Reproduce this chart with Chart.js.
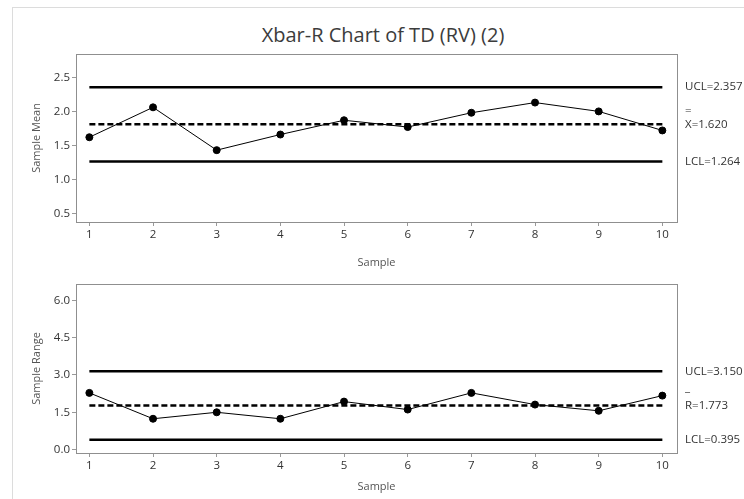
<!DOCTYPE html>
<html lang="en">
<head>
<meta charset="UTF-8">
<title>Xbar-R Chart of TD (RV) (2)</title>
<script src="https://cdn.jsdelivr.net/npm/chart.js@4.4.1/dist/chart.umd.min.js"></script>
<style>
    body { margin: 0; background: #fff; font-family: "Open Sans", sans-serif; }
    #page { position: relative; width: 744px; height: 499px; overflow: hidden; }
    #frame { position: absolute; left: 12px; top: 7px; right: -2px; bottom: -2px;
             border-left: 1px solid #dcdcdc; border-top: 1px solid #dcdcdc; }
    #title { position: absolute; left: 22px; width: 722px; top: 21px; text-align: center;
             font-size: 20px; color: #3c3c3c; }
    .box { position: absolute; left: 0; }
</style>
</head>
<body>
<div id="page">
    <div id="frame"></div>
    <div id="title">Xbar-R Chart of TD (RV) (2)</div>
    <div class="box" style="top:45px"><canvas id="meanChart" width="744" height="230"></canvas></div>
    <div class="box" style="top:275px"><canvas id="rangeChart" width="744" height="224"></canvas></div>
</div>
<script>
    // sample numbers
    const samples = [1, 2, 3, 4, 5, 6, 7, 8, 9, 10]

    // Xbar chart
    const meanValues = [1.62, 2.06, 1.43, 1.66, 1.87, 1.77, 1.98, 2.13, 2.00, 1.72]
    const meanLimits = [2.357, 1.81, 1.264]          // UCL, center, LCL
    const meanLabels = ["UCL=2.357", "X=1.620", "LCL=1.264"]
    const meanBarMark = "="

    // R chart
    const rangeValues = [2.28, 1.24, 1.50, 1.24, 1.93, 1.61, 2.28, 1.81, 1.56, 2.17]
    const rangeLimits = [3.150, 1.773, 0.395]
    const rangeLabels = ["UCL=3.150", "R=1.773", "LCL=0.395"]
    const rangeBarMark = "_"

    const fontFamily = "'Open Sans', sans-serif"

    // draws the full plot frame and the control limit labels on the right
    const frameAndLabels = {
        id: 'frameAndLabels',
        afterDraw(chart, args, opts) {
            const ctx = chart.ctx
            const a = chart.chartArea
            ctx.save()
            ctx.strokeStyle = '#8f8f8f'
            ctx.lineWidth = 1
            ctx.strokeRect(Math.round(a.left) + 0.5, Math.round(a.top) + 0.5,
                Math.round(a.right - a.left), Math.round(a.bottom - a.top))

            const y = chart.scales.y
            ctx.fillStyle = '#333'
            ctx.font = '11.5px ' + fontFamily
            ctx.textBaseline = 'middle'
            ctx.textAlign = 'left'
            const x = a.right + 8
            opts.labels.forEach((txt, i) => {
                ctx.fillText(txt, x, y.getPixelForValue(opts.limits[i]))
            })
            // bar over the center line symbol
            ctx.fillText(opts.barMark, x, y.getPixelForValue(opts.limits[1]) - opts.barOffset)
            ctx.restore()
        }
    }

    function makeChart(id, values, limits, labels, barMark, barOffset, yTitle, yMin, yMax, yStep, xHeight, xTitlePad) {
        const pts = values.map((v, i) => ({ x: samples[i], y: v }))
        const flat = v => samples.map(s => ({ x: s, y: v }))
        return new Chart(document.getElementById(id).getContext('2d'), {
            type: 'line',
            data: {
                datasets: [
                    { data: flat(limits[0]), borderColor: '#000', borderWidth: 2.5, pointRadius: 0 },
                    { data: flat(limits[1]), borderColor: '#000', borderWidth: 2.5, pointRadius: 0, borderDash: [6, 3] },
                    { data: flat(limits[2]), borderColor: '#000', borderWidth: 2.5, pointRadius: 0 },
                    { data: pts, borderColor: '#000', borderWidth: 1, pointRadius: 3.5,
                      pointBackgroundColor: '#000', pointBorderColor: '#000' }
                ]
            },
            options: {
                responsive: false,
                animation: false,
                layout: { padding: { left: 12, right: 67, top: 8, bottom: 0 } },
                plugins: {
                    legend: { display: false },
                    tooltip: { enabled: false },
                    frameAndLabels: { labels: labels, limits: limits, barMark: barMark, barOffset: barOffset }
                },
                scales: {
                    x: {
                        type: 'linear',
                        min: 0.79,
                        max: 10.23,
                        afterFit: s => { s.height = xHeight },
                        grid: { drawOnChartArea: false, tickLength: 4, color: '#999' },
                        border: { display: false },
                        ticks: { stepSize: 1, includeBounds: false, padding: 2, color: '#333',
                                 font: { family: fontFamily, size: 11.5 } },
                        title: { display: true, text: 'Sample', color: '#555',
                                 font: { family: fontFamily, size: 11 }, padding: { top: 0, bottom: xTitlePad } }
                    },
                    y: {
                        min: yMin,
                        max: yMax,
                        afterFit: s => { s.width = 64 },
                        grid: { drawOnChartArea: false, tickLength: 4, color: '#999' },
                        border: { display: false },
                        ticks: { stepSize: yStep, includeBounds: false, padding: 2, color: '#333',
                                 font: { family: fontFamily, size: 11.5 },
                                 callback: v => v.toFixed(1) },
                        title: { display: true, text: yTitle, color: '#555',
                                 font: { family: fontFamily, size: 11 }, padding: { top: 18, bottom: 0 } }
                    }
                }
            },
            plugins: [frameAndLabels]
        })
    }

    makeChart('meanChart', meanValues, meanLimits, meanLabels, meanBarMark, 14,
        'Sample Mean', 0.373, 2.846, 0.5, 53, 6)
    makeChart('rangeChart', rangeValues, rangeLimits, rangeLabels, rangeBarMark, 18,
        'Sample Range', -0.136, 6.66, 1.5, 46, 6)
</script>
</body>
</html>
